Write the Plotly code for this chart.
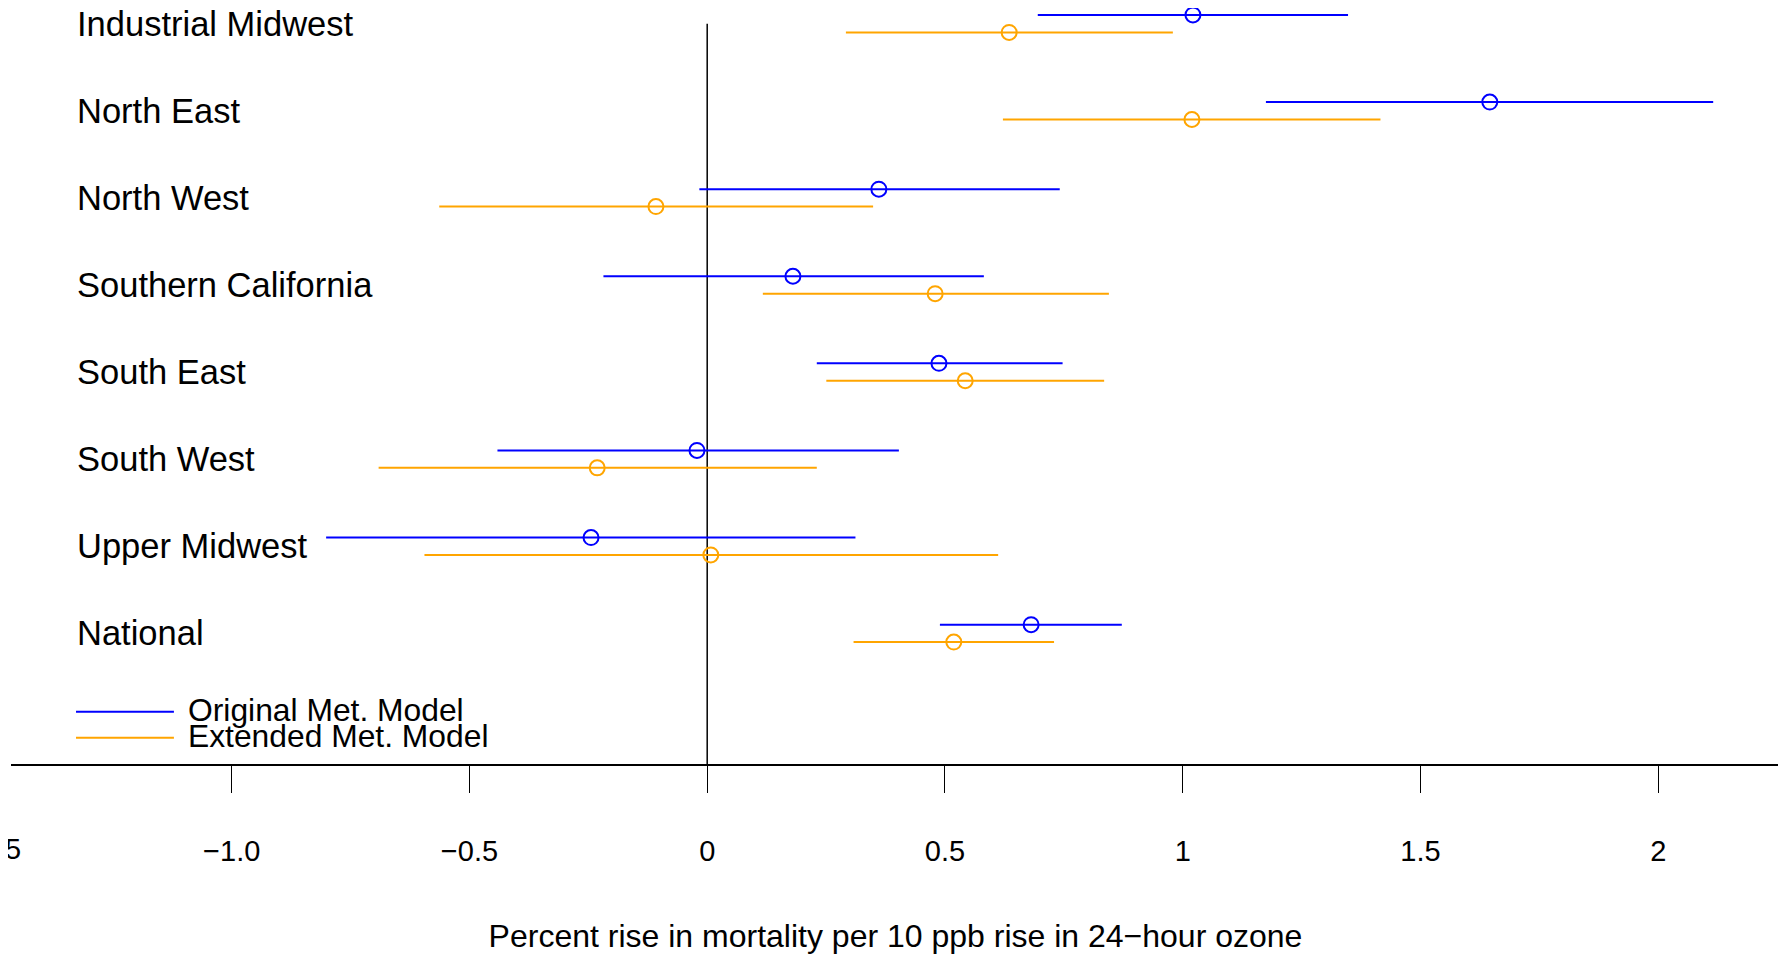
import plotly.graph_objects as go

# ---- data ----
regions = ["Industrial Midwest", "North East", "North West", "Southern California",
           "South East", "South West", "Upper Midwest", "National"]
orig_est = [1.0215, 1.6458, 0.3610, 0.1803, 0.4874, -0.0215, -0.2443, 0.6812]
orig_lo = [0.6952, 1.1750, -0.0165, -0.2182, 0.2305, -0.4411, -0.8014, 0.4894]
orig_hi = [1.3477, 2.1156, 0.7414, 0.5818, 0.7474, 0.4031, 0.3118, 0.8719]
ext_est = [0.6350, 1.0194, -0.1078, 0.4794, 0.5426, -0.2313, 0.0076, 0.5186]
ext_lo = [0.2917, 0.6219, -0.5635, 0.1170, 0.2505, -0.6910, -0.5946, 0.3078]
ext_hi = [0.9793, 1.4159, 0.3489, 0.8448, 0.8348, 0.2305, 0.6119, 0.7294]
tick_vals = [-1.0, -0.5, 0, 0.5, 1, 1.5, 2]
tick_text = ["\u22121.0", "\u22120.5", "0", "0.5", "1", "1.5", "2"]
series_names = ["Original Met. Model", "Extended Met. Model"]

BLUE = "#0000FF"
ORANGE = "#FFA500"
FONT = "Liberation Sans, Arial, Helvetica, sans-serif"

n = len(regions)
rows = [n - i for i in range(n)]  # Industrial Midwest at top
off = 0.1

XMIN, XMAX = -1.4641, 2.2561
YMIN, YMAX = -0.5, 8.180

fig = go.Figure()


def add_series(est, lo, hi, yoff, color, name):
    ys = [r + yoff for r in rows]
    fig.add_trace(go.Scatter(
        x=est, y=ys, mode="markers", name=name, showlegend=False,
        marker=dict(symbol="circle-open", size=15, color=color, line=dict(width=2, color=color)),
        error_x=dict(type="data", symmetric=False,
                     array=[h - e for h, e in zip(hi, est)],
                     arrayminus=[e - l for e, l in zip(est, lo)],
                     color=color, thickness=2, width=0),
        cliponaxis=False,
    ))


add_series(orig_est, orig_lo, orig_hi, off, BLUE, series_names[0])
add_series(ext_est, ext_lo, ext_hi, -off, ORANGE, series_names[1])

shapes = []
# vertical reference line at zero
shapes.append(dict(type="line", xref="x", yref="y", x0=0, x1=0, y0=YMIN, y1=n,
                   line=dict(color="black", width=1.5), layer="below"))

annotations = []
for r, lab in zip(rows, regions):
    annotations.append(dict(xref="paper", yref="y", x=0.0362, y=r, text=lab,
                            xanchor="left", yanchor="middle", showarrow=False,
                            font=dict(family=FONT, size=34.5, color="black")))

# legend (manual)
leg_y = [0.1, -0.2]
leg_ty = [0.125, -0.175]
for name, color, ly, ty in zip(series_names, [BLUE, ORANGE], leg_y, leg_ty):
    shapes.append(dict(type="line", xref="paper", yref="y", x0=0.03675, x1=0.0921, y0=ly, y1=ly,
                       line=dict(color=color, width=2)))
    annotations.append(dict(xref="paper", yref="y", x=0.0990, y=ty, text=name,
                            xanchor="left", yanchor="middle", showarrow=False,
                            font=dict(family=FONT, size=31.8, color="black")))

# partially clipped -1.5 tick label at the left edge
annotations.append(dict(xref="paper", yref="paper", x=0.0066, y=-0.1125, text="\u22121.5",
                        xanchor="right", yanchor="middle", showarrow=False,
                        font=dict(family=FONT, size=29, color="black")))

fig.update_layout(
    width=1778, height=950,
    margin=dict(l=3, r=6, t=0, b=194),
    paper_bgcolor="white", plot_bgcolor="white",
    showlegend=False,
    shapes=shapes,
    annotations=annotations,
    xaxis=dict(range=[XMIN, XMAX], showgrid=False, zeroline=False,
               showline=True, linecolor="black", linewidth=2,
               ticks="outside", ticklen=27, tickwidth=1.3, tickcolor="black",
               tickvals=tick_vals, ticktext=tick_text,
               tickfont=dict(family=FONT, size=29, color="black"),
               ticklabelstandoff=33,
               title=dict(text="Percent rise in mortality per 10 ppb rise in 24\u2212hour ozone",
                          font=dict(family=FONT, size=32, color="black"), standoff=59)),
    yaxis=dict(range=[YMIN, YMAX], visible=False, showgrid=False, zeroline=False),
)

fig.write_html("out.html")
